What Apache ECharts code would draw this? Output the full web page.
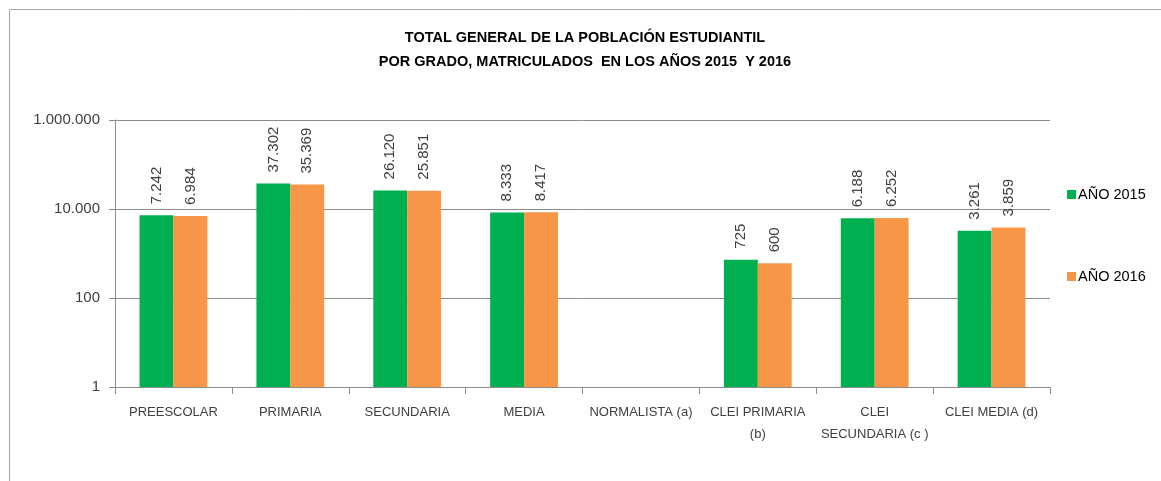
<!DOCTYPE html>
<html>
<head>
<meta charset="UTF-8">
<title>Total general de la población estudiantil</title>
<script src="https://cdn.jsdelivr.net/npm/echarts@6/dist/echarts.min.js"></script>
<style>
  html, body { margin: 0; padding: 0; background: #fff; }
  #main { width: 1161px; height: 481px; }
</style>
</head>
<body>
<div id="main"></div>
<script>
// categorias (con salto de linea como en el original)
var categorias = ['PREESCOLAR', 'PRIMARIA', 'SECUNDARIA', 'MEDIA', 'NORMALISTA (a)',
                  'CLEI PRIMARIA\n(b)', 'CLEI\nSECUNDARIA (c )', 'CLEI MEDIA (d)'];
var anio2015 = [7242, 37302, 26120, 8333, null, 725, 6188, 3261];
var anio2016 = [6984, 35369, 25851, 8417, null, 600, 6252, 3859];
var nombres = ['AÑO 2015', 'AÑO 2016'];
var colores = ['#00B050', '#F79646'];

// formato con punto de miles
function miles(v) {
    return String(Math.round(v)).replace(/\B(?=(\d{3})+(?!\d))/g, '.');
}

var fuente = 'Liberation Sans';
var myChart = echarts.init(document.getElementById('main'));

function serie(i, datos) {
    return {
        name: nombres[i],
        type: 'bar',
        data: datos,
        barGap: 0,
        barCategoryGap: '42%',
        itemStyle: { color: colores[i] },
        label: {
            show: true,
            position: 'top',
            rotate: 90,
            align: 'left',
            verticalAlign: 'middle',
            distance: 11,
            color: '#404040',
            fontFamily: fuente,
            fontSize: 15,
            formatter: function (p) { return miles(p.value); }
        }
    };
}

myChart.setOption({
    animation: false,
    title: {
        text: 'TOTAL GENERAL DE LA POBLACIÓN ESTUDIANTIL\nPOR GRADO, MATRICULADOS  EN LOS AÑOS 2015  Y 2016',
        left: 580,
        textAlign: 'center',
        top: 21,
        textStyle: {
            fontFamily: fuente,
            fontSize: 14.5,
            fontWeight: 'bold',
            color: '#000',
            lineHeight: 24
        }
    },
    legend: {
        orient: 'vertical',
        left: 1062,
        top: 182,
        itemWidth: 9,
        itemHeight: 9,
        itemGap: 67,
        icon: 'rect',
        data: nombres,
        textStyle: { fontFamily: fuente, fontSize: 14.5, color: '#000', padding: [0, 0, 0, -3] }
    },
    grid: {
        left: 115,
        right: 111,
        top: 120,
        bottom: 94
    },
    xAxis: {
        type: 'category',
        data: categorias,
        axisLine: { lineStyle: { color: '#8c8c8c', width: 1 } },
        axisTick: { show: true, alignWithLabel: false, length: 7, lineStyle: { color: '#8c8c8c' } },
        axisLabel: {
            interval: 0,
            color: '#404040',
            fontFamily: fuente,
            fontSize: 13,
            margin: 14,
            lineHeight: 22
        }
    },
    yAxis: {
        type: 'log',
        logBase: 100,
        min: 1,
        max: 1000000,
        axisLine: { show: true, lineStyle: { color: '#8c8c8c' } },
        axisTick: { show: true, length: 6, lineStyle: { color: '#8c8c8c' } },
        splitLine: { lineStyle: { color: '#8c8c8c', width: 1 } },
        axisLabel: {
            color: '#404040',
            fontFamily: fuente,
            fontSize: 15,
            margin: 15,
            formatter: function (v) { return miles(v); }
        }
    },
    graphic: [{
        type: 'rect',
        shape: { x: 9.5, y: 9.5, width: 1300, height: 600 },
        style: { fill: 'none', stroke: '#a6a6a6', lineWidth: 1 },
        silent: true
    }],
    series: [serie(0, anio2015), serie(1, anio2016)]
});
</script>
</body>
</html>
